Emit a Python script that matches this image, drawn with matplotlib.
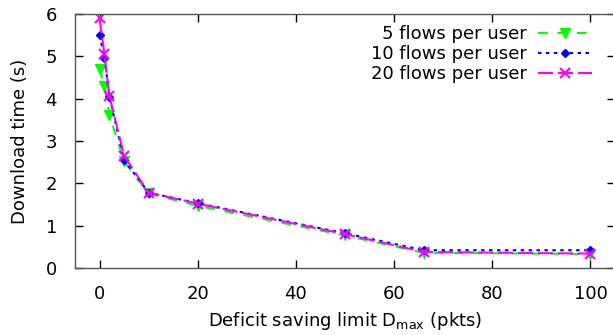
import matplotlib
matplotlib.use("Agg")
import matplotlib.pyplot as plt

x = [0, 1, 2, 5, 10, 20, 50, 66, 100]
flows5 = [4.70, 4.30, 3.62, 2.52, 1.76, 1.47, 0.77, 0.36, 0.33]
flows10 = [5.50, 4.97, 4.05, 2.55, 1.78, 1.53, 0.82, 0.42, 0.42]
flows20 = [5.90, 5.05, 4.07, 2.65, 1.78, 1.52, 0.80, 0.38, 0.34]
labels = ["5 flows per user", "10 flows per user", "20 flows per user"]
xticks = [0, 20, 40, 60, 80, 100]
yticks = [0, 1, 2, 3, 4, 5, 6]

plt.rcParams['font.family'] = ['DejaVu Sans']
plt.rcParams['font.size'] = 13
plt.rcParams['lines.scale_dashes'] = False

fig = plt.figure(figsize=(6.13, 3.35), dpi=100)
ax = fig.add_axes([75/613, 1-268/335, 540/613, (268-14)/335])

ax.plot(x, flows5, color='#00ff00', lw=1.5, dashes=(7, 7), marker='v',
        markersize=6.5, label=labels[0])
ax.plot(x, flows10, color='#0000ff', lw=1.5, dashes=(2.5, 3.2), marker='D',
        markersize=4, label=labels[1])
ax.plot(x, flows20, color='#ff00ff', lw=1.5, dashes=(10.8, 3.6), marker='x',
        markersize=6.5, markeredgewidth=1.5, label=labels[2])

ax.set_xlim(-5, 105)
ax.set_ylim(0, 6)
ax.set_xticks(xticks)
ax.set_yticks(yticks)
ax.tick_params(direction='in', length=6, width=1, top=True, right=True,
               labelsize=13)
ax.tick_params(axis='y', pad=13)
ax.tick_params(axis='x', pad=12)
for s in ax.spines.values():
    s.set_color('#555555')
    s.set_linewidth(1)

ax.set_ylabel("Download time (s)", fontsize=13, labelpad=12)
ax.set_xlabel("Deficit saving limit D$_{\\mathregular{max}}$ (pkts)", fontsize=13, labelpad=5)

leg = ax.legend(loc='upper right', bbox_to_anchor=(0.957, 0.955),
                frameon=False, markerfirst=False,
                handlelength=3.0, handletextpad=0.6, labelspacing=0.1,
                borderaxespad=0, borderpad=0, fontsize=13)

fig.savefig("out.png", dpi=100)
